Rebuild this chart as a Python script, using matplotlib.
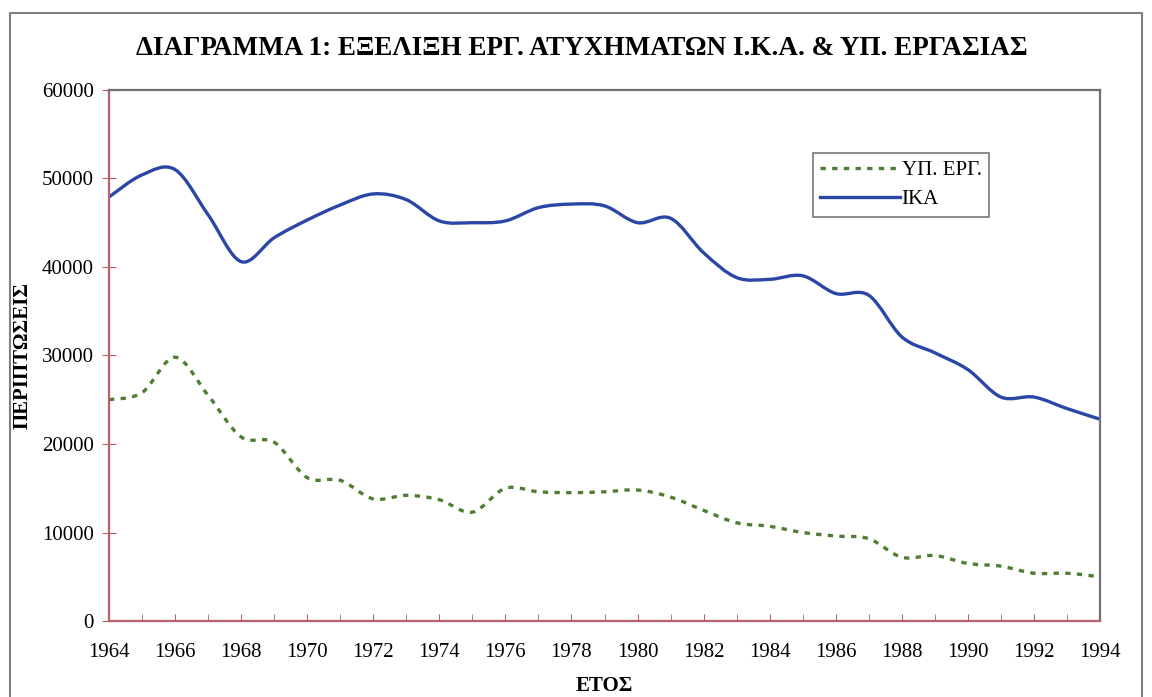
import matplotlib
matplotlib.use("Agg")
import matplotlib.pyplot as plt
from matplotlib.path import Path
from matplotlib.patches import PathPatch, Rectangle
from matplotlib.lines import Line2D
from matplotlib.ticker import MultipleLocator

years = list(range(1964, 1995))
ika = [47900, 50400, 51000, 45900, 40600, 43300, 45300, 47000, 48250, 47600,
       45200, 45000, 45200, 46700, 47100, 46900, 45000, 45500, 41600, 38800,
       38600, 39000, 37000, 36800, 32100, 30300, 28400, 25300, 25300, 24000,
       22800]
yp_erg = [25000, 25800, 29800, 25500, 20800, 20200, 16200, 15900, 13800, 14200,
          13700, 12300, 15000, 14600, 14500, 14600, 14800, 14000, 12500, 11100,
          10700, 10000, 9600, 9300, 7200, 7400, 6500, 6200, 5400, 5400, 5000]

title = "ΔΙΑΓΡΑΜΜΑ 1: ΕΞΕΛΙΞΗ ΕΡΓ. ΑΤΥΧΗΜΑΤΩΝ Ι.Κ.Α. & ΥΠ. ΕΡΓΑΣΙΑΣ"
xlabel = "ΕΤΟΣ"
ylabel = "ΠΕΡΙΠΤΩΣΕΙΣ"
labels = ["ΥΠ. ΕΡΓ.", "ΙΚΑ"]

BLUE = "#2b47a6"
GREEN = "#4f7d35"
RED = "#b8606e"
DOTS = (0, (1.6, 1.9))

plt.rcParams['font.family'] = ['Liberation Serif', 'DejaVu Serif']


def smooth_path(xs, ys, t=1/6):
    # cubic bezier through the points, like a spreadsheet "smoothed line"
    verts = [(xs[0], ys[0])]
    codes = [Path.MOVETO]
    n = len(xs)
    for i in range(n - 1):
        x0, y0 = xs[max(i - 1, 0)], ys[max(i - 1, 0)]
        x1, y1 = xs[i], ys[i]
        x2, y2 = xs[i + 1], ys[i + 1]
        x3, y3 = xs[min(i + 2, n - 1)], ys[min(i + 2, n - 1)]
        c1 = (x1 + (x2 - x0) * t, y1 + (y2 - y0) * t)
        c2 = (x2 - (x3 - x1) * t, y2 - (y3 - y1) * t)
        verts += [c1, c2, (x2, y2)]
        codes += [Path.CURVE4] * 3
    return Path(verts, codes)


fig = plt.figure(figsize=(11.52, 6.97), dpi=100)
ax = fig.add_axes([0.0946, 0.109, 0.8603, 0.762])

ax.add_patch(PathPatch(smooth_path(years, yp_erg), fill=False, edgecolor=GREEN,
                       lw=2.4, linestyle=DOTS, capstyle='butt'))
ax.add_patch(PathPatch(smooth_path(years, ika), fill=False, edgecolor=BLUE, lw=2.4))

ax.set_xlim(1964, 1994)
ax.set_ylim(0, 60000)
ax.xaxis.set_major_locator(MultipleLocator(2))
ax.xaxis.set_minor_locator(MultipleLocator(1))
ax.yaxis.set_major_locator(MultipleLocator(10000))

ax.tick_params(axis='x', which='both', direction='in', length=5, color=RED,
               labelsize=15, pad=16)
ax.tick_params(axis='y', direction='inout', length=10, color=RED, labelsize=15, pad=6)

ax.spines['left'].set_color(RED)
ax.spines['bottom'].set_color(RED)
ax.spines['top'].set_color("#707078")
ax.spines['right'].set_color("#707078")
for s in ax.spines.values():
    s.set_linewidth(1.6)

ax.set_xlabel(xlabel, fontsize=15, fontweight='bold')
ax.xaxis.set_label_coords(0.5, -0.103)
ax.set_ylabel(ylabel, fontsize=15, fontweight='bold')
ax.yaxis.set_label_coords(-0.077, 0.5)
fig.text(0.505, 0.930, title, fontsize=19.5, fontweight='bold', ha='center', va='center')

handles = [Line2D([], [], color=GREEN, lw=2.4, linestyle=DOTS),
           Line2D([], [], color=BLUE, lw=2.4)]
leg = ax.legend(handles, labels, loc='upper left', bbox_to_anchor=(0.7, 0.9),
                fontsize=15, frameon=True, fancybox=False, handlelength=3.8,
                handletextpad=0.1, borderpad=0.35, labelspacing=0.45)
leg.get_frame().set_edgecolor("#555555")
leg.get_frame().set_linewidth(1.2)

fig.patches.append(Rectangle((0.009, -0.05), 0.982, 1.031, transform=fig.transFigure,
                             fill=False, edgecolor="#808088", lw=1.5))

fig.savefig("out.png", dpi=100)
